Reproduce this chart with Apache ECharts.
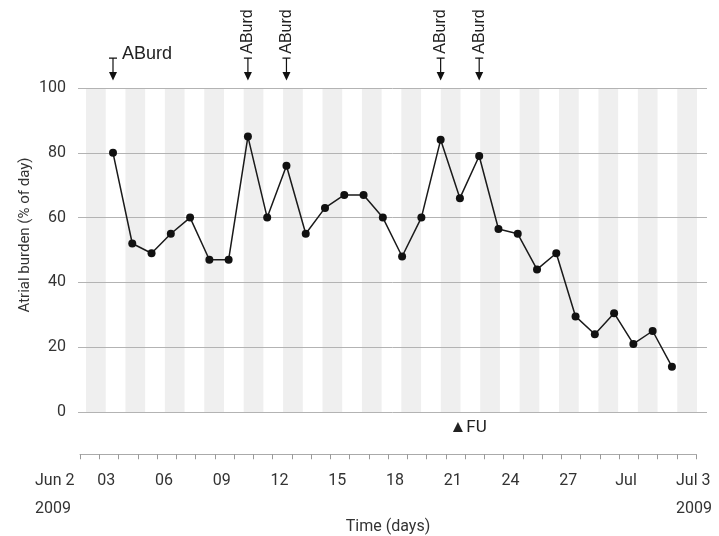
<!DOCTYPE html>
<html>
<head>
<meta charset="utf-8">
<script src="https://cdn.jsdelivr.net/npm/echarts@6/dist/echarts.min.js"></script>
<style>
html,body{margin:0;padding:0;background:#fff;}
#chart{width:719px;height:536px;}
</style>
</head>
<body>
<div id="chart"></div>
<script>
// ---- data ----
// day of June 2009 (32 = Jul 2)
const days = [3,4,5,6,7,8,9,10,11,12,13,14,15,16,17,18,19,20,21,22,23,24,25,26,27,28,29,30,31,32];
const burden = [80,52,49,55,60,47,47,85,60,76,55,63,67,67,60,48,60,84,66,79,56.5,55,44,49,29.5,24,30.5,21,25,14];
const aburdDays = [3,10,12,20,22];
const aburdLabel = 'ABurd';
const fuDay = 21;
const fuLabel = '\u25B2FU';
// bottom time axis: tick index -> label
const tickIndex = [0,1,4,7,10,13,16,19,22,25,28,32];
const tickLabels = ['Jun 2\n2009','03','06','09','12','15','18','21','24','27','Jul','Jul 3\n2009'];
const yTicks = [0,20,40,60,80,100];

const labelMap = {};
tickIndex.forEach((t, i) => { labelMap[t] = tickLabels[i]; });

const arrowPath = 'path://M1 0L9 0L9 1.2L1 1.2Z M4.4 0L5.6 0L5.6 16L4.4 16Z M1 15L9 15L5 24Z';

const markData = aburdDays.map((d, i) => ({
  coord: [d, yTicks[yTicks.length - 1]],
  symbol: arrowPath,
  symbolSize: [8, 23],
  symbolOffset: [0, -19],
  itemStyle: {color: '#111'},
  label: i === 0 ? {
    show: true, formatter: aburdLabel, position: [13, -3],
    align: 'left', verticalAlign: 'middle',
    fontFamily: 'Liberation Sans', fontSize: 18, color: '#222'
  } : {
    show: true, formatter: aburdLabel, position: [4, -26], rotate: 90,
    align: 'center', verticalAlign: 'middle',
    fontFamily: 'Liberation Sans', fontSize: 16, color: '#222'
  }
}));
markData.push({
  coord: [fuDay, yTicks[0]],
  symbol: 'circle', symbolSize: 1,
  itemStyle: {color: 'rgba(0,0,0,0)'},
  label: {
    show: true, formatter: fuLabel, position: [-10, 16.5],
    align: 'left', verticalAlign: 'middle',
    fontFamily: 'Roboto', fontSize: 17, color: '#222'
  }
});

const chart = echarts.init(document.getElementById('chart'), null, {renderer: 'canvas'});
chart.setOption({
  animation: false,
  backgroundColor: '#fff',
  textStyle: {fontFamily: 'Roboto'},
  grid: [
    {left: 78, right: 12, top: 88, bottom: 124},
    {left: 86, right: 22, top: 88, bottom: 124},
    {left: 80, right: 16, top: 454, height: 1}
  ],
  xAxis: [
    {gridIndex: 0, type: 'value', min: 1.184, max: 33.82, show: false},
    {gridIndex: 1, type: 'value', min: 0, max: 31, interval: 1, z: 0,
      axisLine: {show: false}, axisTick: {show: false}, axisLabel: {show: false},
      splitLine: {show: false},
      splitArea: {show: true, areaStyle: {color: ['#efefef', 'rgba(255,255,255,0)']}}},
    {gridIndex: 2, type: 'value', min: 0, max: 32, interval: 1,
      axisLine: {lineStyle: {color: '#aaaaaa', width: 1}},
      axisTick: {length: 5, lineStyle: {color: '#999999'}},
      splitLine: {show: false},
      axisLabel: {
        showMinLabel: true, showMaxLabel: true, hideOverlap: false, margin: 13,
        alignMinLabel: 'right',
        color: '#333', fontFamily: 'Roboto', fontSize: 16,
        formatter: function (v) {
          const s = labelMap[v];
          if (s == null) return '';
          const st = v === tickIndex[0] ? 'f' : (v === tickIndex[tickIndex.length - 1] ? 'l' : 'm');
          return s.split('\n').map(p => '{' + st + '|' + p + '}').join('\n');
        },
        rich: {
          f: {width: 45, align: 'left', lineHeight: 28, fontSize: 16, fontFamily: 'Roboto', color: '#333'},
          l: {width: 40, align: 'left', lineHeight: 28, fontSize: 16, fontFamily: 'Roboto', color: '#333'},
          m: {padding: [0, 0, 0, 14], lineHeight: 28, fontSize: 16, fontFamily: 'Roboto', color: '#333'}
        }
      },
      name: 'Time (days)', nameLocation: 'middle', nameGap: 65, nameMoveOverlap: false,
      nameTextStyle: {fontFamily: 'Roboto', fontSize: 16, color: '#333'}
    }
  ],
  yAxis: [
    {gridIndex: 0, type: 'value', min: yTicks[0], max: yTicks[yTicks.length - 1], interval: 20, z: 1,
      axisLine: {show: false}, axisTick: {show: false},
      axisLabel: {fontFamily: 'Roboto', fontSize: 16, color: '#333', margin: 12},
      splitLine: {lineStyle: {color: '#b3b3b3', width: 1}},
      name: 'Atrial burden (% of day)', nameLocation: 'middle', nameGap: 45, nameRotate: 90,
      nameMoveOverlap: false,
      nameTextStyle: {fontFamily: 'Roboto', fontSize: 15, color: '#333', padding: [0, 0, 0, 30]}
    },
    {gridIndex: 1, type: 'value', min: 0, max: 1, show: false},
    {gridIndex: 2, type: 'value', min: 0, max: 1, show: false}
  ],
  series: [{
    type: 'line', xAxisIndex: 0, yAxisIndex: 0, z: 5, clip: false,
    data: days.map((d, i) => [d, burden[i]]),
    symbol: 'circle', symbolSize: 8,
    lineStyle: {color: '#1a1a1a', width: 1.5},
    itemStyle: {color: '#111'},
    markPoint: {data: markData, animation: false}
  }]
});
</script>
</body>
</html>
